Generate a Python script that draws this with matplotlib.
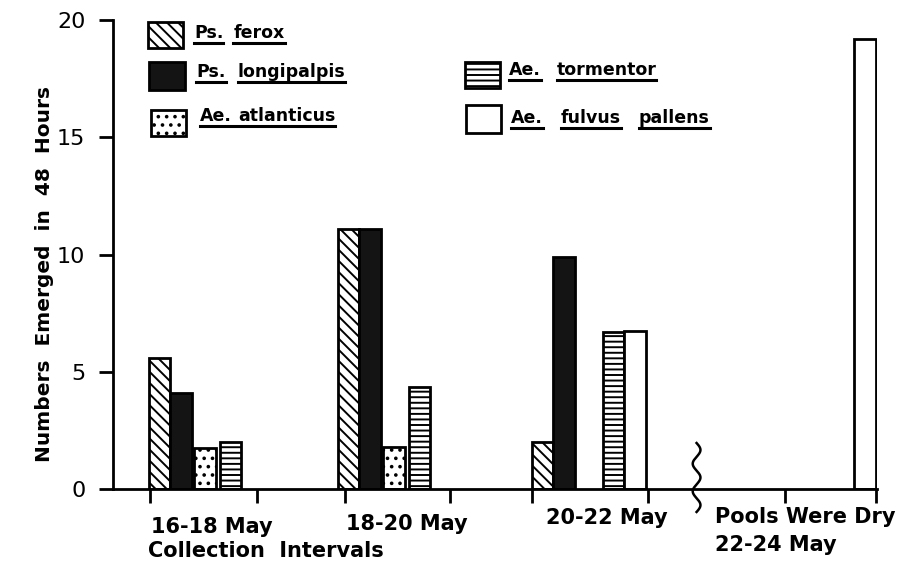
import numpy as np
import matplotlib
matplotlib.use('Agg')
import matplotlib.pyplot as plt
from matplotlib.patches import Rectangle
from matplotlib.lines import Line2D
import matplotlib.transforms as mtransforms

# ---- data ----
intervals = ['16-18 May', '18-20 May', '20-22 May', 'Pools Were Dry', '22-24 May']
species = ['Ps. ferox', 'Ps. longipalpis', 'Ae. atlanticus', 'Ae. tormentor', 'Ae. fulvus pallens']
ferox = [5.6, 11.1, 2.0, 0.0]
longipalpis = [4.1, 11.1, 9.9, 0.0]
atlanticus = [1.75, 1.8, 0.0, 0.0]
tormentor = [2.0, 4.35, 6.7, 0.0]
fulvus_pallens = [0.0, 0.0, 6.75, 19.2]
yticks = [0, 5, 10, 15, 20]
ylabel = 'Numbers  Emerged  in  48  Hours'
xlabel = 'Collection  Intervals'

plt.rcParams['hatch.linewidth'] = 1.4
plt.rcParams['font.family'] = ['DejaVu Sans']

fig = plt.figure(figsize=(9.05, 5.67), dpi=100)
ax = fig.add_axes([0.1249, 0.1376, 0.844, 0.827])

group_start = [1.67, 10.47, 19.49, 30.2]
slot = [0.0, 1.0, 2.1, 3.3, 4.3]
bar_w = 1.0
styles = [dict(facecolor='white', hatch='\\\\\\'),
          dict(facecolor='#141414'),
          dict(facecolor='white', hatch='..'),
          dict(facecolor='white', hatch='---'),
          dict(facecolor='white')]
series = [ferox, longipalpis, atlanticus, tormentor, fulvus_pallens]
for k, vals in enumerate(series):
    for g, v in enumerate(vals):
        if v > 0:
            ax.bar(group_start[g] + slot[k], v, width=bar_w, align='edge',
                   edgecolor='black', linewidth=2, **styles[k])

boundaries = [1.72, 6.70, 10.79, 15.67, 19.49, 24.88, 31.26, 35.53]
ax.set_xlim(0, 35.55)
ax.set_ylim(0, 20)
ax.set_xticks(boundaries)
ax.set_xticklabels([])
ax.set_yticks(yticks)
ax.set_yticklabels([str(t) for t in yticks], fontsize=16)
ax.tick_params(axis='x', direction='out', length=10, width=2)
ax.tick_params(axis='y', direction='out', length=10, width=2, pad=10)
for s in ['top', 'right']:
    ax.spines[s].set_visible(False)
for s in ['left', 'bottom']:
    ax.spines[s].set_linewidth(2)

# category labels
bt = mtransforms.blended_transform_factory(ax.transData, ax.transAxes)
lab_font = dict(fontsize=15, fontweight='bold', transform=bt, clip_on=False)
ax.text(4.6, -0.081, intervals[0], ha='center', va='center', **lab_font)
ax.text(13.67, -0.075, intervals[1], ha='center', va='center', **lab_font)
ax.text(22.98, -0.062, intervals[2], ha='center', va='center', **lab_font)
ax.text(28.0, -0.060, intervals[3], ha='left', va='center', **lab_font)
ax.text(28.0, -0.119, intervals[4], ha='left', va='center', **lab_font)
ax.text(1.63, -0.132, xlabel, ha='left', va='center', **lab_font)

ax.text(-0.09, 0.458, ylabel, rotation=90, ha='center', va='center',
        fontsize=14.5, fontweight='bold', transform=ax.transAxes)

# axis break squiggle
t = np.linspace(0, 1, 200)
ys = 0.098 - t * (0.098 + 0.049)
xs = 27.16 + 0.18 * np.sin(t * 2.5 * 2 * np.pi)
ax.plot(xs, ys, color='black', lw=1.8, transform=bt, clip_on=False)

# legend
leg_boxes = [(0.046, 0.940, 0.046, 0.055),
             (0.047, 0.851, 0.047, 0.060),
             (0.050, 0.753, 0.046, 0.055),
             (0.461, 0.855, 0.046, 0.055),
             (0.462, 0.759, 0.046, 0.060)]
leg_text = [(0.106, 0.972), (0.109, 0.889), (0.114, 0.795), (0.518, 0.893), (0.521, 0.791)]
word_gap = [10, 12, 6, 16, 18]
joined_underline = [False, False, True, False, False]
for k in range(5):
    x0, y0, bw, bh = leg_boxes[k]
    ax.add_patch(Rectangle((x0, y0), bw, bh, transform=ax.transAxes,
                           edgecolor='black', linewidth=2, clip_on=False, **styles[k]))

fig.canvas.draw()
renderer = fig.canvas.get_renderer()
W, H = fig.bbox.width, fig.bbox.height
for k, name in enumerate(species):
    tx, ty = leg_text[k]
    xd, yd = ax.transAxes.transform((tx, ty))
    boxes = []
    for word in name.split(' '):
        txt = fig.text(xd / W, yd / H, word, fontsize=12.5, fontweight='bold',
                       ha='left', va='center')
        bb = txt.get_window_extent(renderer)
        boxes.append(bb)
        xd = bb.x1 + word_gap[k]
    segs = [(boxes[0].x0, boxes[-1].x1)] if joined_underline[k] else [(b.x0, b.x1) for b in boxes]
    uy = boxes[0].y0 - 1
    for a, b in segs:
        fig.add_artist(Line2D([a / W, b / W], [uy / H, uy / H], color='black', lw=2.2))

fig.savefig('out.png', dpi=100)
